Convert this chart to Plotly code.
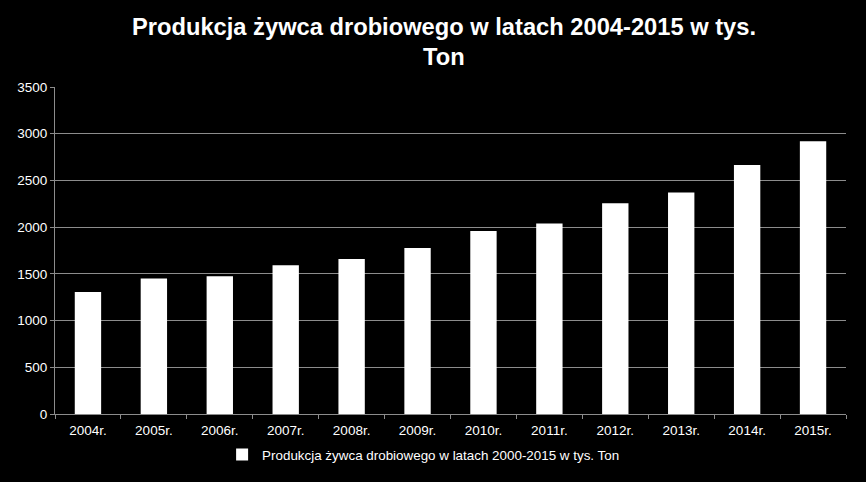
import plotly.graph_objects as go

years = ["2004r.", "2005r.", "2006r.", "2007r.", "2008r.", "2009r.",
         "2010r.", "2011r.", "2012r.", "2013r.", "2014r.", "2015r."]
values = [1305, 1449, 1474, 1592, 1659, 1777, 1959, 2038, 2255, 2370, 2665, 2919]
series_name = "Produkcja żywca drobiowego w latach 2000-2015 w tys. Ton"
title_lines = ["Produkcja żywca drobiowego w latach 2004-2015 w tys.", "Ton"]
y_ticks = [0, 500, 1000, 1500, 2000, 2500, 3000, 3500]

fig = go.Figure()
fig.add_trace(go.Bar(
    x=years, y=values, name=series_name,
    marker=dict(color="white", line=dict(width=0)),
    showlegend=True,
))

font_family = "Liberation Sans, Arial, sans-serif"
H, T, B = 482, 87, 68
plot_h = H - T - B

title_centers_px = [27, 57]
for line, ypx in zip(title_lines, title_centers_px):
    fig.add_annotation(
        text="<b>" + line + "</b>",
        xref="paper", x=(444 - 55) / 791, xanchor="center",
        yref="paper", y=(H - B - ypx) / plot_h, yanchor="middle",
        showarrow=False,
        font=dict(family=font_family, size=23.7, color="white"),
    )

fig.update_layout(
    width=866, height=H,
    paper_bgcolor="black", plot_bgcolor="black",
    margin=dict(l=55, r=20, t=T, b=B),
    bargap=0.6,
    font=dict(family=font_family, color="white", size=13.5),
    legend=dict(
        orientation="h", x=0.466, xanchor="center",
        y=-0.125, yanchor="middle",
        font=dict(size=13.4, color="white"),
        bgcolor="rgba(0,0,0,0)",
        itemwidth=30,
    ),
    xaxis=dict(
        type="category",
        showline=True, linecolor="#8c8c8c", linewidth=1,
        ticks="outside", tickson="boundaries", ticklen=4, tickcolor="#8c8c8c",
        tickfont=dict(size=13.5, color="white"),
        ticklabelstandoff=4,
        showgrid=False,
    ),
    yaxis=dict(
        range=[0, 3500], tickvals=y_ticks,
        showline=True, linecolor="#8c8c8c", linewidth=1,
        ticks="outside", ticklen=4, tickcolor="#8c8c8c",
        showgrid=True, gridcolor="#8c8c8c", gridwidth=1,
        tickfont=dict(size=13.5, color="white"),
        zeroline=False,
    ),
)

fig.write_html("out.html")
